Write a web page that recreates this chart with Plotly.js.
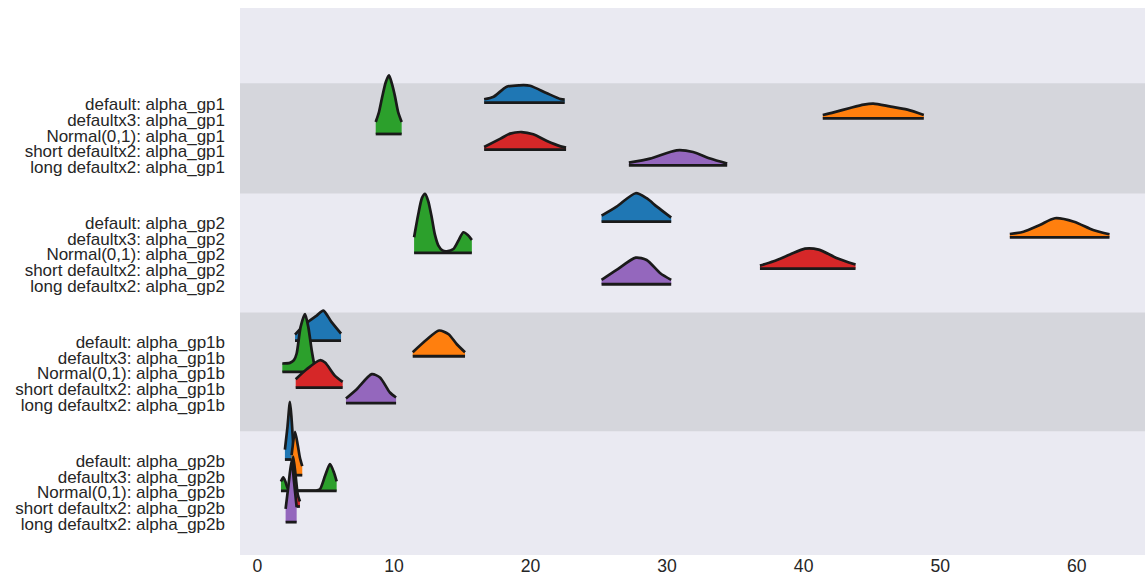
<!DOCTYPE html>
<html>
<head>
<meta charset="utf-8">
<script src="https://cdn.plot.ly/plotly-3.0.1.min.js"></script>
<style>html,body{margin:0;padding:0;background:#fff;}#chart{width:1145px;height:576px;}</style>
</head>
<body>
<div id="chart"></div>
<script>
// ---- data ----
const models = ["default", "defaultx3", "Normal(0,1)", "short defaultx2", "long defaultx2"];
const params = ["alpha_gp1", "alpha_gp2", "alpha_gp1b", "alpha_gp2b"];
const xTicks = [0, 10, 20, 30, 40, 50, 60];

// per parameter: one x-grid and one (relative) density list per model
const alpha_gp1_x = [
  [16.6, 17.3, 18.25, 19.2, 19.96, 21.2, 22.2, 22.5],
  [41.4, 42.2, 43.4, 44.4, 45.1, 46.3, 47.6, 48.8],
  [8.66, 8.9, 9.15, 9.4, 9.63, 9.85, 10.07, 10.3, 10.56],
  [16.6, 17.8, 18.5, 19.35, 20.2, 21.2, 22.2, 22.6],
  [27.2, 28.75, 30.7, 31.9, 33.15, 34.4]
];
const alpha_gp1_d = [
  [3.4, 6, 16, 17.4, 17, 9.4, 3.6, 3],
  [3.4, 6, 10.4, 13.7, 14.7, 12, 8.7, 3.4],
  [12, 22, 38, 52, 58.6, 50, 37.6, 22, 12],
  [2.6, 11, 16, 17.6, 15.3, 8.6, 3.3, 2],
  [2.7, 6.7, 15, 13.3, 6.7, 1.7]
];
const alpha_gp2_x = [
  [25.2, 26.3, 27.7, 28.5, 29.25, 30.3],
  [55.1, 56.1, 57.3, 58.4, 59.8, 61.2, 62.4],
  [11.47, 11.78, 12.05, 12.27, 12.5, 12.76, 13.0, 13.25, 13.55, 13.86, 14.35, 14.7, 15.08, 15.4, 15.7],
  [36.8, 37.8, 39.0, 40.1, 41.1, 42.4, 43.8],
  [25.2, 26.3, 27.7, 28.5, 29.5, 30.3]
];
const alpha_gp2_d = [
  [6, 15, 28.4, 23.4, 15, 4],
  [3.3, 5.6, 12.3, 19, 15.6, 7.3, 3],
  [15.7, 39, 55, 59, 52, 35.7, 18, 7.3, 2.5, 1.7, 4, 12, 20.7, 18, 13],
  [3, 7.3, 14, 20, 19, 10.7, 4],
  [4.3, 14.3, 26.6, 24.3, 11, 4.3]
];
const alpha_gp1b_x = [
  [2.75, 3.6, 4.34, 4.82, 5.4, 6.12],
  [11.37, 12.4, 13.3, 14.0, 14.6, 15.2],
  [1.82, 2.38, 2.67, 2.87, 3.16, 3.48, 3.72, 3.97, 4.14],
  [2.8, 3.6, 4.58, 4.95, 5.68, 6.24],
  [6.48, 7.27, 8.37, 8.97, 9.7, 10.15]
];
const alpha_gp1b_d = [
  [6, 17.7, 25, 30, 19, 7],
  [4, 16.7, 25.7, 22, 12, 4],
  [8.4, 9, 11.7, 18.4, 45, 57.7, 45, 21.7, 8.4],
  [8.3, 18.3, 27.3, 25, 11.6, 5.6],
  [4.7, 14, 29, 25.7, 10.7, 5.7]
];
const alpha_gp2b_x = [
  [2.01, 2.2, 2.38, 2.5, 2.62],
  [2.5, 2.75, 2.95, 3.1, 3.28],
  [1.72, 1.89, 2.05, 2.2, 2.4, 3.0, 3.6, 4.3, 4.58, 4.95, 5.31, 5.6, 5.8],
  [2.45, 2.62, 2.8, 2.95, 3.11],
  [2.06, 2.28, 2.5, 2.68, 2.87]
];
const alpha_gp2b_d = [
  [10, 33, 57.7, 40, 15],
  [20, 43.4, 30, 18, 9],
  [9.4, 13.4, 9, 3, 0.5, 0.2, 0.2, 0.3, 1.7, 15, 26.7, 18.4, 9.4],
  [12, 50, 30, 12, 5],
  [13.3, 38, 61.6, 40, 15]
];

// ---- styling ----
const colors = ["#1f77b4", "#ff7f0e", "#2ca02c", "#d62728", "#9467bd"];
const lineColor = "#1a1a1a";
const bandColor = "#d5d6dc";
const bgColor = "#eaeaf2";
const fontFamily = "Liberation Sans, Arial, sans-serif";
const densScale = 1 / 15.65;   // density units -> row units
const groupStep = 7.6;         // rows between parameter groups

const xs = [alpha_gp1_x, alpha_gp2_x, alpha_gp1b_x, alpha_gp2b_x];
const ds = [alpha_gp1_d, alpha_gp2_d, alpha_gp1b_d, alpha_gp2b_d];

const traces = [];
const tickvals = [];
const ticktext = [];
params.forEach((p, g) => {
  models.forEach((m, i) => {
    const base = g * groupStep + i;
    tickvals.push(base);
    ticktext.push(m + ": " + p);
    const x = xs[g][i];
    const d = ds[g][i];
    // baseline (filled to by the curve)
    traces.push({
      type: "scatter", mode: "lines",
      x: [x[0], x[x.length - 1]], y: [base, base],
      line: {color: lineColor, width: 2.8},
      hoverinfo: "skip", showlegend: false
    });
    traces.push({
      type: "scatter", mode: "lines",
      x: x, y: d.map(v => base - v * densScale),
      line: {color: lineColor, width: 2.7, shape: "spline", smoothing: 0.7},
      fill: "tonexty", fillcolor: colors[i],
      hoverinfo: "skip", showlegend: false
    });
  });
});

const shapes = [];
params.forEach((p, g) => {
  if (g % 2 === 0) {
    const first = g * groupStep;
    const y0 = g === 0 ? first - 1.24 : first - (groupStep - 4) / 2;
    const y1 = first + 4 + (groupStep - 4) / 2;
    shapes.push({type: "rect", xref: "paper", x0: 0, x1: 1, yref: "y", y0: y0, y1: y1,
      fillcolor: bandColor, line: {width: 0}, layer: "below"});
  }
});

const layout = {
  width: 1145, height: 576,
  margin: {l: 240, r: 0, t: 8, b: 21},
  paper_bgcolor: "#ffffff",
  plot_bgcolor: bgColor,
  font: {family: fontFamily, size: 17, color: "#262626"},
  showlegend: false,
  xaxis: {
    range: [-1.28, 65.0], tickvals: xTicks, ticktext: xTicks.map(String),
    showgrid: false, zeroline: false, showline: false, ticks: "",
    ticklabelstandoff: -2,
    tickfont: {family: fontFamily, size: 17.6, color: "#262626"}, automargin: false
  },
  yaxis: {
    range: [28.9, -6.05], tickvals: tickvals.map(v => v + 0.1), ticktext: ticktext,
    showgrid: false, zeroline: false, showline: false, ticks: "",
    ticklabelstandoff: 14,
    tickfont: {family: fontFamily, size: 17, color: "#262626"}, automargin: false
  },
  shapes: shapes
};

Plotly.newPlot("chart", traces, layout, {staticPlot: true, displayModeBar: false});
</script>
</body>
</html>
